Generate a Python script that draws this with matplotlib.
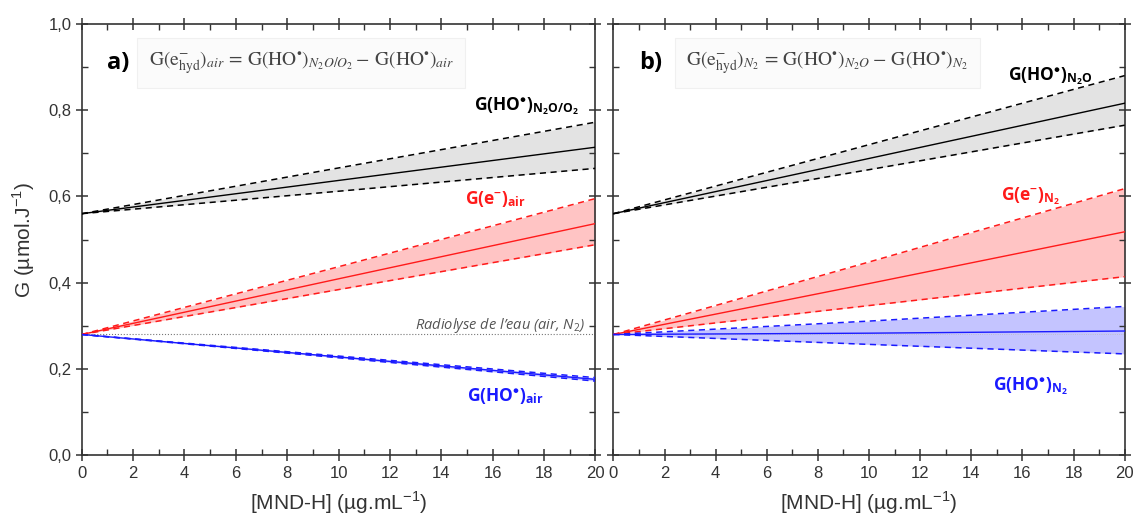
import matplotlib.pyplot as plt
from matplotlib.ticker import MultipleLocator, FuncFormatter

plt.rcParams['font.family'] = ['Liberation Sans', 'DejaVu Sans']
plt.rcParams['mathtext.fontset'] = 'custom'
plt.rcParams['mathtext.rm'] = 'Open Sans'
plt.rcParams['mathtext.bf'] = 'Open Sans:bold'
plt.rcParams['mathtext.it'] = 'Open Sans:italic'

# concentration of MND-H (ug/mL)
conc = [0, 10, 20]

# panel a) air / N2O-O2
ho_n2oo2 = [0.560, 0.637, 0.714]
ho_n2oo2_hi = [0.560, 0.666, 0.772]
ho_n2oo2_lo = [0.560, 0.612, 0.665]
e_air = [0.280, 0.409, 0.537]
e_air_hi = [0.280, 0.437, 0.595]
e_air_lo = [0.280, 0.384, 0.488]
ho_air = [0.280, 0.228, 0.176]
ho_air_hi = [0.280, 0.230, 0.180]
ho_air_lo = [0.280, 0.226, 0.172]

# panel b) N2 / N2O
ho_n2o = [0.560, 0.688, 0.816]
ho_n2o_hi = [0.560, 0.720, 0.880]
ho_n2o_lo = [0.560, 0.662, 0.765]
e_n2 = [0.280, 0.398, 0.518]
e_n2_hi = [0.280, 0.448, 0.618]
e_n2_lo = [0.280, 0.347, 0.414]
ho_n2 = [0.280, 0.283, 0.288]
ho_n2_hi = [0.280, 0.311, 0.345]
ho_n2_lo = [0.280, 0.257, 0.235]

water_g = 0.28

fig = plt.figure(figsize=(11.36, 5.30), dpi=100)
ax1 = fig.add_axes([0.072, 0.141, 0.452, 0.814])
ax2 = fig.add_axes([0.540, 0.141, 0.450, 0.814])


def band(ax, y, hi, lo, col, fill):
    ax.fill_between(conc, lo, hi, color=fill, lw=0, zorder=1)
    ax.plot(conc, hi, color=col, ls=(0, (4, 3)), lw=1.1, zorder=3)
    ax.plot(conc, lo, color=col, ls=(0, (4, 3)), lw=1.1, zorder=3)
    ax.plot(conc, y, color=col, lw=1.0, zorder=4)


band(ax1, ho_n2oo2, ho_n2oo2_hi, ho_n2oo2_lo, 'black', '#e3e3e3')
band(ax1, e_air, e_air_hi, e_air_lo, '#ff1a1a', '#ffc4c4')
band(ax1, ho_air, ho_air_hi, ho_air_lo, '#1a1aff', '#c4c4ff')
band(ax2, ho_n2o, ho_n2o_hi, ho_n2o_lo, 'black', '#e3e3e3')
band(ax2, e_n2, e_n2_hi, e_n2_lo, '#ff1a1a', '#ffc4c4')
band(ax2, ho_n2, ho_n2_hi, ho_n2_lo, '#1a1aff', '#c4c4ff')

ax1.axhline(water_g, color='#777777', ls=':', lw=0.8, zorder=2)
ax2.axhline(water_g, color='#bbbbbb', ls=':', lw=0.6, zorder=2)

comma = FuncFormatter(lambda v, p: f'{v:.1f}'.replace('.', ','))
for ax in (ax1, ax2):
    ax.set_xlim(0, 20)
    ax.set_ylim(0, 1.0)
    ax.xaxis.set_major_locator(MultipleLocator(2))
    ax.xaxis.set_minor_locator(MultipleLocator(1))
    ax.yaxis.set_major_locator(MultipleLocator(0.2))
    ax.yaxis.set_minor_locator(MultipleLocator(0.1))
    ax.tick_params(which='both', top=True, right=True, labelsize=12,
                   colors='#333333', labelcolor='#333333')
    ax.tick_params(which='major', direction='inout', length=8, width=1.1)
    ax.tick_params(which='minor', direction='in', length=4, width=1.0)
    for s in ax.spines.values():
        s.set_color('#333333')
        s.set_linewidth(1.2)
    ax.set_xlabel('[MND-H] (µg.mL$^{\\mathregular{-1}}$)', fontsize=15, color='#333333', labelpad=6)

ax1.yaxis.set_major_formatter(comma)
ax2.tick_params(labelleft=False)
ax1.set_ylabel('G (µmol.J$^{\\mathregular{-1}}$)', fontsize=15, color='#333333', labelpad=8)

box = dict(boxstyle='square,pad=0.6', facecolor='#fbfbfb', edgecolor='#f0f0f0', lw=0.8)

ax1.text(1.0, 0.91, 'a)', fontsize=17, fontweight='bold', family='Open Sans', va='center')
ax1.text(2.6, 0.91, r'$\mathrm{G}\left(\mathrm{e}^{-}_{\mathrm{hyd}}\right)_{air}\,=\,\mathrm{G(HO}^{\bullet}\mathrm{)}_{N_2O/O_2}-\,\mathrm{G(HO}^{\bullet}\mathrm{)}_{air}$',
         fontsize=14, color='#444444', va='center', math_fontfamily='stix', bbox=box)
ax2.text(1.0, 0.91, 'b)', fontsize=17, fontweight='bold', family='Open Sans', va='center')
ax2.text(2.85, 0.91, r'$\mathrm{G}\left(\mathrm{e}^{-}_{\mathrm{hyd}}\right)_{N_2}\,=\,\mathrm{G(HO}^{\bullet}\mathrm{)}_{N_2O}-\,\mathrm{G(HO}^{\bullet}\mathrm{)}_{N_2}$',
         fontsize=14, color='#444444', va='center', math_fontfamily='stix', bbox=box)

lab = dict(fontsize=12.5, fontweight='bold', family='Open Sans', ha='center', va='center')
ax1.text(17.3, 0.81, r'G(HO$^{\bullet}$)$_{\mathbf{N_2O/O_2}}$', color='black', **lab)
ax1.text(16.1, 0.595, r'G(e$^{\mathbf{-}}$)$_{\mathbf{air}}$', color='#ff1a1a', **lab)
ax1.text(16.5, 0.137, r'G(HO$^{\bullet}$)$_{\mathbf{air}}$', color='#1a1aff', **lab)
ax1.text(19.6, 0.30, r'Radiolyse de l’eau (air, N$_{2}$)', fontsize=10.5, style='italic',
         family='Open Sans', color='#555555', ha='right', va='center')

ax2.text(17.1, 0.88, r'G(HO$^{\bullet}$)$_{\mathbf{N_2O}}$', color='black', **lab)
ax2.text(16.3, 0.60, r'G(e$^{\mathbf{-}}$)$_{\mathbf{N_2}}$', color='#ff1a1a', **lab)
ax2.text(16.3, 0.16, r'G(HO$^{\bullet}$)$_{\mathbf{N_2}}$', color='#1a1aff', **lab)

fig.savefig('out.png', dpi=100)
